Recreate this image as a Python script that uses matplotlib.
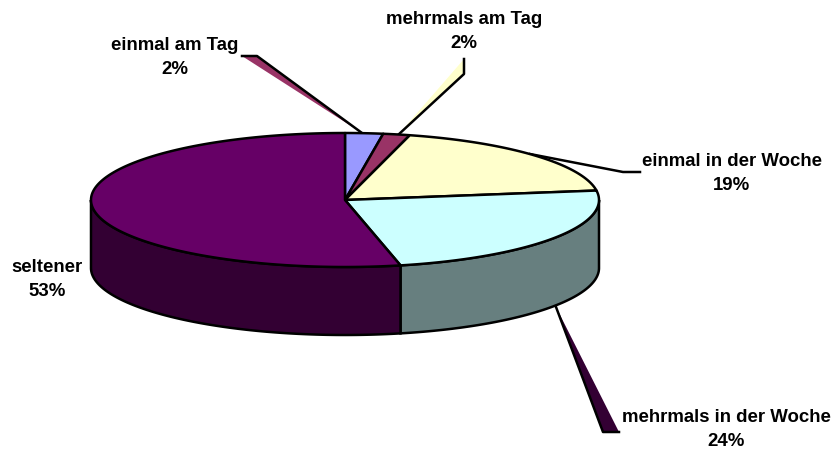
import numpy as np
import matplotlib
matplotlib.use("Agg")
import matplotlib.pyplot as plt

plt.rcParams['font.family'] = ['Liberation Sans', 'DejaVu Sans']

# clockwise from the top
labels = ["einmal am Tag", "mehrmals am Tag", "einmal in der Woche", "mehrmals in der Woche", "seltener"]
values = [2.4, 1.7, 18.6, 23.7, 53.4]
colors = ["#9999FF", "#993366", "#FFFFCC", "#CCFFFF", "#660066"]
side_colors = ["#4C4C7F", "#4C1933", "#7F7F66", "#677F7F", "#330033"]

# pie geometry in pixels of the figure
cx, cy = 345, 200
rx, ry = 254, 67
depth = 68
lw = 1.8

fig = plt.figure(figsize=(8.35, 4.54), dpi=100)
ax = fig.add_axes([0, 0, 1, 1])
ax.set_xlim(0, 835)
ax.set_ylim(454, 0)
ax.axis("off")


def rim(a, b):
    # points on the top ellipse, angle in degrees clockwise from the top
    t = np.radians(np.linspace(a, b, max(int(abs(b - a) * 2), 2)))
    return cx + rx * np.sin(t), cy - ry * np.cos(t)


edges = np.concatenate([[0], np.cumsum(values)]) / sum(values) * 360

# front side of the pie, only the lower half can be seen
for i in range(len(values)):
    a = max(edges[i], 90)
    b = min(edges[i + 1], 270)
    if b <= a:
        continue
    x, y = rim(a, b)
    ax.fill(np.r_[x, x[::-1]], np.r_[y, y[::-1] + depth], fc=side_colors[i], ec="black", lw=lw, zorder=2)

# top
for i in range(len(values)):
    x, y = rim(edges[i], edges[i + 1])
    ax.fill(np.r_[cx, x], np.r_[cy, y], fc=colors[i], ec="black", lw=lw, joinstyle="round", zorder=3)

# leader lines with their shadow wedge: tip on the pie, elbow, end
leaders = [
    ((362, 133), (257, 56), (242, 56), "#993366"),
    ((398, 135), (464, 74), (464, 59), "#FFFFCC"),
    ((530, 154), (623, 172), (640, 172), "#FFFFCC"),
    ((556, 307), (603, 432), (619, 432), "#330033"),
]
for tip, elbow, end, col in leaders:
    if end[1] != 172:
        ax.fill([tip[0], elbow[0], end[0]], [tip[1], elbow[1], end[1]], fc=col, ec="none", zorder=1)
    ax.plot([tip[0], elbow[0], end[0]], [tip[1], elbow[1], end[1]], color="black", lw=lw, zorder=1.5)

label_pos = [(175, 45), (464, 20), (732, 161), (726, 417), (47, 268)]
for name, v, (tx, ty) in zip(labels, values, label_pos):
    ax.text(tx, ty, name, ha="center", va="center", fontsize=13.4, fontweight="bold")
    ax.text(tx, ty + 24, "%d%%" % round(v), ha="center", va="center", fontsize=13.4, fontweight="bold")

fig.savefig("out.png", dpi=100)
